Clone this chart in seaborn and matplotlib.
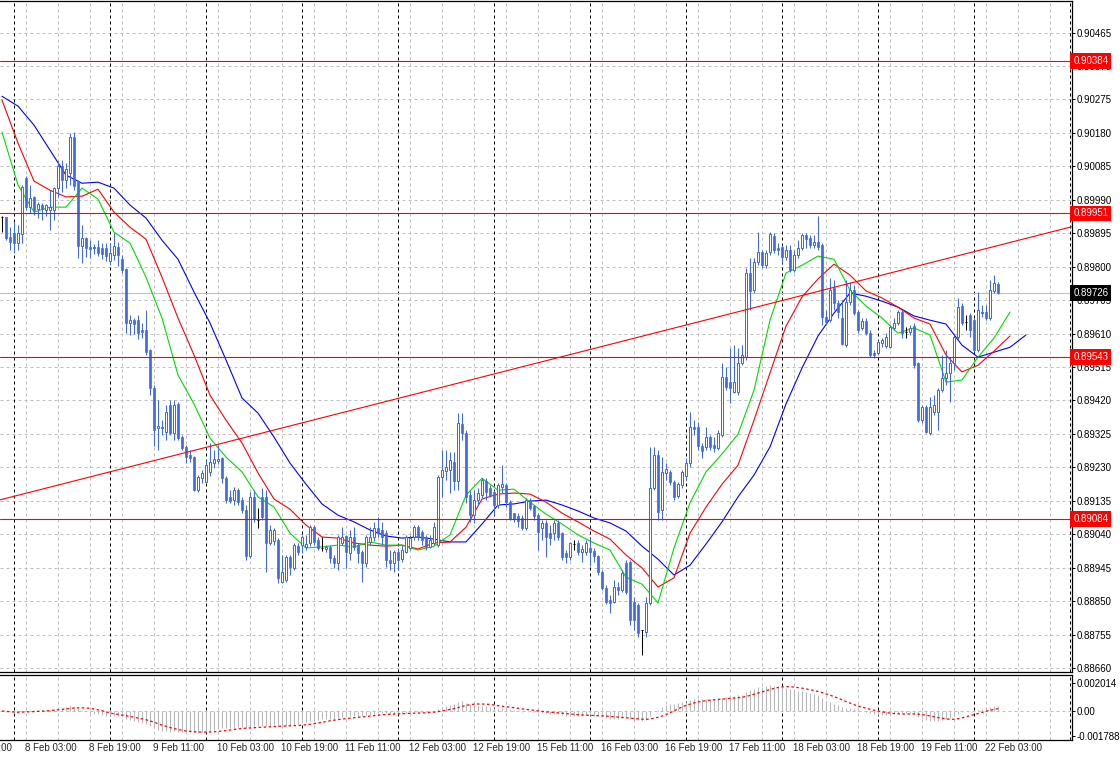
import numpy as np
import pandas as pd
import matplotlib
matplotlib.use("Agg")
import matplotlib.pyplot as plt
import seaborn as sns

# H1 candles, 5 Feb 21:00 .. 22 Feb 06:00 (weekend hours skipped)
opens = [
    0.89941, 0.89941, 0.89884, 0.89895, 0.89867, 0.89892, 0.90052, 0.89969, 0.89998, 0.89963,
    0.89975, 0.89961, 0.89961, 0.89961, 0.90023, 0.90086, 0.90046, 0.90066, 0.90168, 0.90040,
    0.89858, 0.89881, 0.89855, 0.89853, 0.89855, 0.89853, 0.89853, 0.89816, 0.89833, 0.89855,
    0.89821, 0.89793, 0.89640, 0.89648, 0.89648, 0.89620, 0.89620, 0.89563, 0.89455, 0.89342,
    0.89342, 0.89330, 0.89407, 0.89327, 0.89410, 0.89316, 0.89288, 0.89265, 0.89259, 0.89165,
    0.89199, 0.89188, 0.89217, 0.89242, 0.89248, 0.89256, 0.89199, 0.89146, 0.89137, 0.89165,
    0.89137, 0.89109, 0.88978, 0.89146, 0.89080, 0.89146, 0.89146, 0.89015, 0.89021, 0.89023,
    0.88904, 0.88910, 0.88975, 0.88944, 0.89006, 0.89009, 0.89004, 0.89015, 0.89060, 0.89023,
    0.89001, 0.88998, 0.89004, 0.88972, 0.88958, 0.89015, 0.89035, 0.88987, 0.89032, 0.89009,
    0.88989, 0.88958, 0.89018, 0.89032, 0.89058, 0.89052, 0.89043, 0.88967, 0.88958, 0.88989,
    0.88969, 0.88989, 0.89001, 0.89032, 0.89060, 0.89046, 0.89032, 0.89004, 0.89015, 0.89009,
    0.89202, 0.89219, 0.89222, 0.89245, 0.89191, 0.89353, 0.89327, 0.89151, 0.89094, 0.89137,
    0.89151, 0.89191, 0.89171, 0.89160, 0.89123, 0.89174, 0.89180, 0.89131, 0.89100, 0.89092,
    0.89086, 0.89058, 0.89137, 0.89120, 0.89094, 0.89058, 0.89072, 0.89043, 0.89043, 0.89072,
    0.89043, 0.88987, 0.88975, 0.89012, 0.89015, 0.88989, 0.88989, 0.89001, 0.88992, 0.88978,
    0.88933, 0.88887, 0.88853, 0.88847, 0.88890, 0.88881, 0.88958, 0.88961, 0.88847, 0.88839,
    0.88768, 0.88762, 0.88845, 0.89171, 0.89265, 0.89109, 0.89214, 0.89217, 0.89188, 0.89148,
    0.89180, 0.89205, 0.89242, 0.89344, 0.89344, 0.89290, 0.89288, 0.89316, 0.89293, 0.89285,
    0.89322, 0.89486, 0.89472, 0.89444, 0.89444, 0.89526, 0.89543, 0.89782, 0.89733, 0.89813,
    0.89841, 0.89804, 0.89841, 0.89887, 0.89853, 0.89855, 0.89827, 0.89847, 0.89790, 0.89833,
    0.89853, 0.89890, 0.89881, 0.89861, 0.89870, 0.89861, 0.89657, 0.89648, 0.89739, 0.89696,
    0.89654, 0.89577, 0.89699, 0.89733, 0.89671, 0.89626, 0.89645, 0.89611, 0.89554, 0.89554,
    0.89583, 0.89574, 0.89571, 0.89626, 0.89640, 0.89671, 0.89614, 0.89614, 0.89631, 0.89526,
    0.89364, 0.89401, 0.89327, 0.89387, 0.89387, 0.89449, 0.89483, 0.89498, 0.89526, 0.89600,
    0.89688, 0.89643, 0.89662, 0.89648, 0.89563, 0.89668, 0.89671, 0.89654, 0.89731, 0.89750,
]
highs = [
    0.89944, 0.89941, 0.89912, 0.89927, 0.89918, 0.90032, 0.90057, 0.90032, 0.90000, 0.89983,
    0.89981, 0.89978, 0.90017, 0.90026, 0.90100, 0.90103, 0.90094, 0.90179, 0.90182, 0.90046,
    0.89918, 0.89884, 0.89875, 0.89864, 0.89875, 0.89867, 0.89867, 0.89867, 0.89895, 0.89870,
    0.89833, 0.89796, 0.89662, 0.89654, 0.89662, 0.89640, 0.89677, 0.89566, 0.89464, 0.89421,
    0.89364, 0.89407, 0.89421, 0.89421, 0.89415, 0.89322, 0.89293, 0.89279, 0.89262, 0.89208,
    0.89222, 0.89251, 0.89299, 0.89279, 0.89293, 0.89259, 0.89205, 0.89165, 0.89174, 0.89171,
    0.89146, 0.89123, 0.89160, 0.89165, 0.89114, 0.89171, 0.89165, 0.89066, 0.89058, 0.89029,
    0.88981, 0.88981, 0.88981, 0.89015, 0.89015, 0.89038, 0.89038, 0.89066, 0.89066, 0.89032,
    0.89032, 0.89009, 0.89009, 0.88981, 0.89038, 0.89060, 0.89038, 0.89052, 0.89060, 0.89015,
    0.88995, 0.89038, 0.89060, 0.89075, 0.89089, 0.89075, 0.89052, 0.88995, 0.88995, 0.89001,
    0.89009, 0.89038, 0.89038, 0.89066, 0.89066, 0.89052, 0.89038, 0.89038, 0.89075, 0.89208,
    0.89279, 0.89279, 0.89273, 0.89273, 0.89384, 0.89384, 0.89336, 0.89165, 0.89165, 0.89171,
    0.89199, 0.89199, 0.89180, 0.89165, 0.89185, 0.89236, 0.89185, 0.89137, 0.89100, 0.89100,
    0.89094, 0.89143, 0.89143, 0.89123, 0.89100, 0.89080, 0.89080, 0.89066, 0.89080, 0.89080,
    0.89046, 0.88995, 0.89018, 0.89023, 0.89023, 0.89009, 0.89023, 0.89029, 0.89001, 0.88981,
    0.88938, 0.88896, 0.88867, 0.88910, 0.88904, 0.88938, 0.88967, 0.88967, 0.88862, 0.88845,
    0.88768, 0.88862, 0.89288, 0.89288, 0.89279, 0.89259, 0.89242, 0.89222, 0.89194, 0.89188,
    0.89222, 0.89256, 0.89387, 0.89364, 0.89359, 0.89299, 0.89344, 0.89322, 0.89316, 0.89336,
    0.89526, 0.89515, 0.89569, 0.89577, 0.89569, 0.89577, 0.89796, 0.89824, 0.89824, 0.89898,
    0.89847, 0.89847, 0.89898, 0.89895, 0.89867, 0.89861, 0.89861, 0.89861, 0.89847, 0.89875,
    0.89895, 0.89895, 0.89890, 0.89890, 0.89944, 0.89867, 0.89677, 0.89768, 0.89762, 0.89705,
    0.89705, 0.89762, 0.89756, 0.89748, 0.89677, 0.89654, 0.89654, 0.89620, 0.89563, 0.89591,
    0.89597, 0.89611, 0.89634, 0.89654, 0.89677, 0.89677, 0.89628, 0.89634, 0.89640, 0.89529,
    0.89407, 0.89407, 0.89430, 0.89435, 0.89455, 0.89549, 0.89563, 0.89543, 0.89606, 0.89711,
    0.89696, 0.89662, 0.89668, 0.89654, 0.89728, 0.89691, 0.89691, 0.89762, 0.89776, 0.89756,
]
lows = [
    0.89898, 0.89875, 0.89847, 0.89838, 0.89847, 0.89867, 0.89961, 0.89952, 0.89946, 0.89938,
    0.89932, 0.89944, 0.89904, 0.89932, 0.89998, 0.90012, 0.90023, 0.90032, 0.90017, 0.89824,
    0.89810, 0.89827, 0.89824, 0.89836, 0.89830, 0.89821, 0.89816, 0.89804, 0.89819, 0.89802,
    0.89782, 0.89611, 0.89606, 0.89608, 0.89594, 0.89597, 0.89549, 0.89435, 0.89290, 0.89279,
    0.89322, 0.89307, 0.89322, 0.89307, 0.89307, 0.89279, 0.89242, 0.89245, 0.89163, 0.89160,
    0.89185, 0.89185, 0.89205, 0.89228, 0.89239, 0.89185, 0.89129, 0.89129, 0.89123, 0.89123,
    0.89100, 0.88967, 0.88972, 0.89075, 0.89058, 0.89080, 0.88933, 0.89009, 0.89009, 0.88901,
    0.88901, 0.88904, 0.88924, 0.88938, 0.88981, 0.88987, 0.88995, 0.89006, 0.89009, 0.88995,
    0.88992, 0.88989, 0.88958, 0.88944, 0.88938, 0.89009, 0.88944, 0.88967, 0.88995, 0.88958,
    0.88904, 0.88947, 0.89009, 0.89021, 0.89032, 0.89009, 0.88947, 0.88938, 0.88933, 0.88938,
    0.88961, 0.88987, 0.88995, 0.89023, 0.89023, 0.89009, 0.88995, 0.89001, 0.89009, 0.89004,
    0.89146, 0.89194, 0.89157, 0.89165, 0.89165, 0.89307, 0.89129, 0.89075, 0.89072, 0.89123,
    0.89143, 0.89137, 0.89146, 0.89094, 0.89114, 0.89157, 0.89117, 0.89080, 0.89075, 0.89060,
    0.89052, 0.89052, 0.89109, 0.89080, 0.88995, 0.89023, 0.88975, 0.89009, 0.89023, 0.89023,
    0.88967, 0.88958, 0.88967, 0.88995, 0.88981, 0.88961, 0.88981, 0.88950, 0.88961, 0.88924,
    0.88881, 0.88842, 0.88816, 0.88845, 0.88867, 0.88876, 0.88870, 0.88782, 0.88768, 0.88748,
    0.88697, 0.88748, 0.88839, 0.89165, 0.89080, 0.89080, 0.89194, 0.89180, 0.89137, 0.89143,
    0.89171, 0.89194, 0.89231, 0.89322, 0.89279, 0.89256, 0.89279, 0.89279, 0.89273, 0.89279,
    0.89316, 0.89449, 0.89412, 0.89441, 0.89435, 0.89520, 0.89535, 0.89677, 0.89725, 0.89804,
    0.89796, 0.89796, 0.89833, 0.89838, 0.89833, 0.89810, 0.89819, 0.89785, 0.89785, 0.89824,
    0.89847, 0.89853, 0.89853, 0.89853, 0.89847, 0.89634, 0.89634, 0.89643, 0.89677, 0.89654,
    0.89577, 0.89571, 0.89691, 0.89662, 0.89611, 0.89620, 0.89606, 0.89543, 0.89540, 0.89549,
    0.89571, 0.89569, 0.89569, 0.89620, 0.89634, 0.89597, 0.89597, 0.89606, 0.89512, 0.89359,
    0.89356, 0.89327, 0.89322, 0.89378, 0.89336, 0.89444, 0.89464, 0.89415, 0.89506, 0.89591,
    0.89634, 0.89620, 0.89600, 0.89557, 0.89557, 0.89657, 0.89648, 0.89648, 0.89725, 0.89722,
]
closes = [
    0.89941, 0.89881, 0.89870, 0.89867, 0.89895, 0.90026, 0.89969, 0.89995, 0.89961, 0.89978,
    0.89963, 0.89975, 0.89969, 0.90023, 0.90086, 0.90046, 0.90077, 0.90168, 0.90029, 0.89858,
    0.89881, 0.89853, 0.89850, 0.89855, 0.89838, 0.89836, 0.89830, 0.89838, 0.89858, 0.89833,
    0.89790, 0.89640, 0.89648, 0.89637, 0.89611, 0.89614, 0.89557, 0.89455, 0.89336, 0.89347,
    0.89344, 0.89387, 0.89327, 0.89407, 0.89313, 0.89285, 0.89259, 0.89256, 0.89165, 0.89202,
    0.89214, 0.89236, 0.89245, 0.89253, 0.89253, 0.89199, 0.89137, 0.89134, 0.89165, 0.89131,
    0.89109, 0.88978, 0.89146, 0.89083, 0.89080, 0.89089, 0.89015, 0.89052, 0.89052, 0.88916,
    0.88933, 0.88975, 0.88947, 0.89009, 0.88989, 0.89032, 0.89012, 0.89060, 0.89018, 0.89001,
    0.89001, 0.89004, 0.88972, 0.88958, 0.89032, 0.89032, 0.88989, 0.89032, 0.89004, 0.88987,
    0.88958, 0.89032, 0.89032, 0.89058, 0.89043, 0.89032, 0.88967, 0.88958, 0.88989, 0.88967,
    0.88995, 0.89032, 0.89029, 0.89060, 0.89032, 0.89023, 0.89004, 0.89023, 0.89060, 0.89202,
    0.89222, 0.89231, 0.89251, 0.89191, 0.89356, 0.89327, 0.89146, 0.89094, 0.89137, 0.89157,
    0.89194, 0.89160, 0.89151, 0.89123, 0.89180, 0.89182, 0.89131, 0.89083, 0.89083, 0.89077,
    0.89058, 0.89137, 0.89114, 0.89092, 0.89046, 0.89072, 0.89032, 0.89029, 0.89072, 0.89032,
    0.88975, 0.88975, 0.89015, 0.89012, 0.88989, 0.88998, 0.89015, 0.88989, 0.88978, 0.88933,
    0.88887, 0.88847, 0.88845, 0.88890, 0.88881, 0.88930, 0.88876, 0.88796, 0.88796, 0.88759,
    0.88768, 0.88845, 0.89171, 0.89265, 0.89103, 0.89217, 0.89225, 0.89188, 0.89146, 0.89182,
    0.89217, 0.89242, 0.89344, 0.89339, 0.89290, 0.89276, 0.89316, 0.89288, 0.89285, 0.89327,
    0.89486, 0.89458, 0.89455, 0.89472, 0.89526, 0.89549, 0.89782, 0.89731, 0.89813, 0.89841,
    0.89804, 0.89838, 0.89892, 0.89847, 0.89847, 0.89827, 0.89847, 0.89790, 0.89833, 0.89853,
    0.89890, 0.89878, 0.89861, 0.89870, 0.89855, 0.89657, 0.89643, 0.89733, 0.89696, 0.89671,
    0.89580, 0.89699, 0.89733, 0.89668, 0.89620, 0.89645, 0.89611, 0.89549, 0.89549, 0.89586,
    0.89591, 0.89600, 0.89628, 0.89640, 0.89671, 0.89611, 0.89614, 0.89626, 0.89520, 0.89364,
    0.89401, 0.89330, 0.89401, 0.89407, 0.89449, 0.89483, 0.89498, 0.89526, 0.89600, 0.89685,
    0.89640, 0.89643, 0.89620, 0.89563, 0.89677, 0.89671, 0.89654, 0.89733, 0.89753, 0.89726,
]

# Alligator lines as drawn (already shifted forward), read every 4th bar
jaw = [  # blue
    0.90284, 0.90256, 0.90202, 0.90131, 0.90060, 0.90037, 0.90040, 0.90023, 0.89975, 0.89938,
    0.89875, 0.89821, 0.89728, 0.89640, 0.89535, 0.89427, 0.89384, 0.89316, 0.89242, 0.89182,
    0.89126, 0.89094, 0.89075, 0.89052, 0.89035, 0.89029, 0.89032, 0.89026, 0.89018, 0.89018,
    0.89069, 0.89123, 0.89126, 0.89134, 0.89137, 0.89123, 0.89106, 0.89086, 0.89072, 0.89049,
    0.89006, 0.88969, 0.88924, 0.88952, 0.89012, 0.89075, 0.89146, 0.89208, 0.89288, 0.89410,
    0.89512, 0.89603, 0.89668, 0.89725, 0.89716, 0.89702, 0.89685, 0.89660, 0.89648, 0.89637,
    0.89577, 0.89543, 0.89557, 0.89571, 0.89606,
]
teeth = [  # red
    0.90273, 0.90151, 0.90043, 0.90017, 0.89998, 0.90000, 0.90020, 0.89955, 0.89912, 0.89878,
    0.89770, 0.89654, 0.89549, 0.89435, 0.89364, 0.89299, 0.89214, 0.89140, 0.89111, 0.89066,
    0.89032, 0.89029, 0.89015, 0.89009, 0.89006, 0.89009, 0.88998, 0.89015, 0.89018, 0.89060,
    0.89140, 0.89154, 0.89157, 0.89154, 0.89131, 0.89100, 0.89075, 0.89049, 0.89026, 0.88981,
    0.88944, 0.88890, 0.88916, 0.89043, 0.89117, 0.89182, 0.89236, 0.89364, 0.89498, 0.89631,
    0.89714, 0.89765, 0.89807, 0.89776, 0.89731, 0.89711, 0.89685, 0.89654, 0.89637, 0.89549,
    0.89501, 0.89520, 0.89560, 0.89603,
]
lips = [  # green
    0.90182, 0.90032, 0.89955, 0.89969, 0.89969, 0.90023, 0.89992, 0.89898, 0.89867, 0.89770,
    0.89654, 0.89492, 0.89410, 0.89313, 0.89259, 0.89217, 0.89146, 0.89117, 0.89043, 0.89001,
    0.89004, 0.89009, 0.89004, 0.89018, 0.89009, 0.89009, 0.88995, 0.89006, 0.89038, 0.89151,
    0.89199, 0.89165, 0.89168, 0.89131, 0.89097, 0.89069, 0.89038, 0.89015, 0.88995, 0.88918,
    0.88898, 0.88845, 0.89001, 0.89129, 0.89217, 0.89268, 0.89324, 0.89449, 0.89648, 0.89782,
    0.89804, 0.89830, 0.89821, 0.89733, 0.89688, 0.89654, 0.89611, 0.89626, 0.89606, 0.89472,
    0.89478, 0.89543, 0.89597, 0.89671,
]

levels = [0.90384, 0.89951, 0.89543, 0.89084]
trend_bars = [0, 249]
trend_prices = [0.89139, 0.89860]

price_ticks = [0.88660, 0.88755, 0.88850, 0.88945, 0.89040, 0.89135, 0.89230, 0.89325,
               0.89420, 0.89515, 0.89610, 0.89705, 0.89800, 0.89895, 0.89990, 0.90085,
               0.90180, 0.90275, 0.90370, 0.90465]
macd_ticks = [-0.001788, 0.0, 0.002014]
macd_labels = ["-0.001788", "0.00", "0.002014"]

sns.set_style("white")
plt.rcParams["font.family"] = ["Liberation Sans", "DejaVu Sans"]

BLUE = "#4169e1"
GRID = "#c0c0c0"
DASH = (0, (3, 3))

o, h, l, c = (np.array(v) for v in (opens, highs, lows, closes))
bars = np.arange(len(c))

# bar clock: bar 0 = 5 Feb 21:00, extended a little both sides for the axis
times = pd.date_range("2016-02-05 11:00", "2016-02-23 00:00", freq="h")
times = times[times.dayofweek < 5]
bar_pos = np.arange(len(times)) - 10

W, H = 1120, 758
fig = plt.figure(figsize=(W / 100, H / 100), dpi=100)
ax = fig.add_axes([0, 1 - 671.5 / H, 1071.5 / W, 671 / H])
ax2 = fig.add_axes([0, 1 - 739.6 / H, 1071.5 / W, 65 / H])

for a in (ax, ax2):
    a.set_xlim(-0.5, 267.375)
    a.set_xticks([])
    for j, t in zip(bar_pos, times):
        if t.hour == 0:
            a.axvline(j, color="black", lw=0.72, ls=DASH, zorder=1)
        elif (j - 6) % 8 == 0:
            a.axvline(j, color=GRID, lw=0.72, ls=DASH, zorder=0.5)
    for side in ("top", "right", "bottom"):
        a.spines[side].set_color("black")
        a.spines[side].set_linewidth(0.9)
    a.spines["left"].set_visible(False)
    a.yaxis.tick_right()
    a.tick_params(axis="y", direction="out", length=2.2, width=0.72, pad=1.2,
                  labelsize=7, colors="black", left=False, right=True)

# main panel
ax.set_ylim(0.88650, 0.90556)
ax.set_yticks(price_ticks)
ax.set_yticklabels([f"{p:.5f}" for p in price_ticks])
for p in price_ticks:
    ax.axhline(p, color=GRID, lw=0.72, ls=DASH, zorder=0.5)

ax.axhline(c[-1], color=GRID, lw=0.8, zorder=1)

sns.lineplot(x=np.arange(len(jaw)) * 4, y=jaw, color="#0000ff", lw=0.8, ax=ax, zorder=2)
sns.lineplot(x=np.arange(len(teeth)) * 4, y=teeth, color="#ff0000", lw=0.8, ax=ax, zorder=2)
sns.lineplot(x=np.arange(len(lips)) * 4, y=lips, color="#00dd00", lw=0.8, ax=ax, zorder=2)

up, dn, eq = c > o, c < o, c == o
ax.vlines(bars[~eq], l[~eq], h[~eq], color=BLUE, lw=0.75, zorder=3)
ax.vlines(bars[eq], l[eq], h[eq], color="black", lw=0.75, zorder=3)
ax.hlines(o[eq], bars[eq] - 0.3, bars[eq] + 0.3, color="black", lw=0.75, zorder=3)
ax.bar(bars[dn], o[dn] - c[dn], bottom=c[dn], width=0.55, color=BLUE,
       edgecolor=BLUE, lw=0.5, zorder=4)
ax.bar(bars[up], c[up] - o[up], bottom=o[up], width=0.5, facecolor="white",
       edgecolor=BLUE, lw=0.72, zorder=4)

for p in levels:
    ax.axhline(p, color="#ff0000", lw=0.8, zorder=5)
ax.axline((trend_bars[0], trend_prices[0]), (trend_bars[1], trend_prices[1]),
          color="#ff0000", lw=0.8, zorder=5)


def price_box(p, fc):
    ax.annotate(f"{p:.5f}", xy=(1, p), xycoords=("axes fraction", "data"),
                xytext=(1.2, 0), textcoords="offset points", ha="left", va="center",
                fontsize=7, color="white", annotation_clip=False, zorder=10,
                bbox=dict(boxstyle="square,pad=0.3", fc=fc, ec="none"))


for p in levels:
    price_box(p, "#ff0000")
price_box(c[-1], "black")

# MACD(12,26,9) of the closes, MetaTrader style
cs = pd.Series(c)
macd = cs.ewm(span=12, adjust=False).mean() - cs.ewm(span=26, adjust=False).mean()
signal = macd.rolling(9, min_periods=1).mean()

ax2.set_ylim(-0.00205, 0.00262)
ax2.set_yticks(macd_ticks)
ax2.set_yticklabels(macd_labels)
ax2.axhline(0, color=GRID, lw=0.72, ls=DASH, zorder=0.5)
ax2.vlines(bars, 0, macd.values, color="#b8b8b8", lw=0.8, zorder=2)
sns.lineplot(x=bars, y=signal.values, color="#ff0000", lw=0.9,
             linestyle=(0, (2, 2)), ax=ax2, zorder=3)
ax2.set_ylabel("")
ax.set_ylabel("")

# time axis labels, every 16 bars
for j, t in zip(bar_pos, times):
    if (j - 6) % 16 == 0 and j < len(c):
        ax2.annotate(f"{t.day} {t:%b %H:%M}", xy=(j, 0), xycoords=("data", "axes fraction"),
                     xytext=(-0.6, -2.6), textcoords="offset points", ha="left", va="top",
                     fontsize=7, annotation_clip=False)

fig.savefig("out.png", dpi=100)
